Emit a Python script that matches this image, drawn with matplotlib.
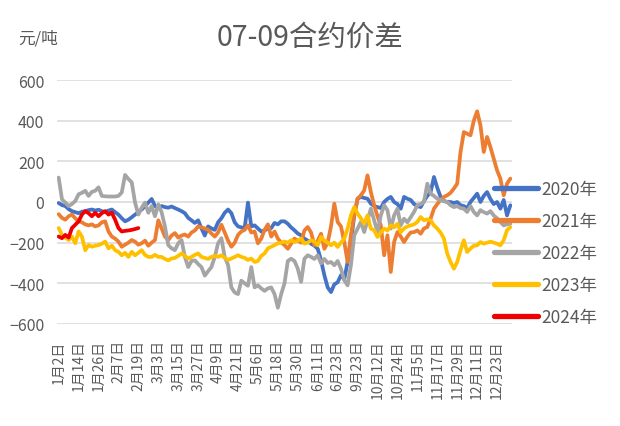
import matplotlib
matplotlib.use("Agg")
import matplotlib.pyplot as plt

plt.rcParams['font.family'] = ['Noto Sans CJK SC', 'DejaVu Sans']

tick_labels = ["1月2日", "1月14日", "1月26日", "2月7日", "2月19日", "3月3日", "3月15日",
               "3月27日", "4月9日", "4月21日", "5月6日", "5月18日", "5月30日", "6月11日",
               "6月23日", "9月23日", "10月12日", "10月24日", "11月5日", "11月17日",
               "11月29日", "12月11日", "12月23日"]
n_slots = 137
tick_step = 6

y2020 = [-5, -15, -20, -35, -45, -50, -55, -48, -45, -40, -37, -42, -38, -45, -50, -42, -37, -50, -62, -80,
         -95, -87, -75, -62, -50, -37, -20, -3, 15, -20, -30, -20, -25, -28, -22, -30, -37, -45, -55, -78,
         -90, -103, -90, -130, -165, -120, -130, -137, -100, -80, -53, -37, -55, -100, -120, -125, -128, -3, -120, -115,
         -130, -145, -140, -130, -128, -103, -110, -95, -95, -107, -125, -139, -155, -164, -180, -190, -205, -215, -230, -287,
         -360, -420, -443, -405, -395, -360, -380, -295, -197, -66, 16, 25, 20, 16, -8, -20, -25, -30, 0, 15,
         25, 0, -10, -33, 25, 16, 10, -10, -20, -25, 5, 30, 49, 123, 70, 25, 5, 0, 0, -5,
         0, -16, -20, -30, 0, 20, 41, 0, 30, 49, 15, -10, 0, -33, 10, -66, -16]

y2021 = [-60, -78, -87, -70, -62, -80, -95, -100, -110, -115, -110, -120, -115, -100, -95, -145, -170, -180, -195, -220,
         -210, -200, -187, -195, -210, -203, -190, -215, -200, -187, -90, -130, -170, -187, -165, -153, -175, -165, -160, -170,
         -150, -140, -120, -125, -130, -137, -155, -170, -150, -112, -150, -190, -220, -200, -162, -145, -137, -115, -150, -145,
         -203, -180, -137, -110, -170, -145, -180, -200, -212, -230, -205, -180, -190, -200, -140, -123, -150, -213, -190, -156,
         -230, -200, -120, -8, -98, -120, -197, -295, -160, -66, 16, 33, 57, 131, 49, -16, -70, -115, -262, -164,
         -344, -197, -148, -170, -197, -170, -150, -148, -140, -156, -130, -123, -82, -33, -10, 10, 25, 33, 45, 66,
         90, 246, 344, 336, 328, 400, 446, 377, 246, 320, 270, 213, 156, 115, 33, 90, 115]

y2022 = [120, 13, -3, -20, -10, 5, 38, 45, 55, 30, 50, 55, 72, 30, 28, 27, 27, 27, 30, 47,
         133, 113, 97, -3, -62, -28, -3, -53, -20, -70, -12, -50, -120, -212, -228, -237, -203, -187, -270, -320,
         -290, -287, -305, -320, -362, -340, -320, -270, -203, -178, -270, -310, -420, -445, -453, -387, -400, -412, -320, -420,
         -410, -425, -437, -425, -420, -453, -520, -453, -400, -290, -279, -290, -328, -393, -279, -262, -270, -280, -262, -302,
         -280, -300, -295, -311, -290, -328, -385, -410, -311, -164, -131, -98, -148, -90, -33, -90, -148, -66, -16, -40,
         -131, -66, -33, -115, -82, -100, -75, -49, -16, -10, 0, 90, 41, 30, 16, 10, 5, 0, -16, -25,
         -20, -30, -33, -49, -20, -49, -66, -40, -50, -57, -45, -66, -80, -98, -115, -110, -107]

y2023 = [-128, -162, -175, -187, -170, -203, -145, -170, -237, -212, -220, -215, -212, -205, -195, -228, -215, -237, -245, -262,
         -250, -270, -245, -262, -250, -237, -260, -270, -270, -260, -270, -270, -280, -287, -278, -275, -265, -253, -265, -278,
         -270, -260, -253, -270, -275, -280, -270, -265, -270, -262, -275, -285, -278, -270, -262, -270, -275, -285, -278, -295,
         -290, -265, -253, -228, -220, -212, -203, -200, -195, -200, -188, -197, -190, -180, -205, -200, -188, -195, -213, -172,
         -190, -200, -213, -200, -221, -200, -180, -131, -66, -25, -57, -80, -107, -66, -131, -139, -172, -150, -131, -140,
         -115, -125, -107, -148, -130, -120, -115, -110, -98, -74, -90, -85, -90, -115, -131, -150, -180, -254, -295, -328,
         -295, -238, -188, -246, -229, -215, -213, -197, -205, -200, -195, -200, -205, -213, -188, -139, -123]

y2024 = [-170, -178, -162, -175, -128, -112, -95, -62, -45, -55, -70, -53, -70, -55, -45, -62, -53, -87, -128, -145,
         -142, -140, -137, -133, -128]

series = [("2020年", y2020, "#4472C4"),
          ("2021年", y2021, "#ED7D31"),
          ("2022年", y2022, "#A5A5A5"),
          ("2023年", y2023, "#FFC000"),
          ("2024年", y2024, "#F00000")]

text_color = "#595959"
fw = 'light'

fig = plt.figure(figsize=(6.2, 4.27), dpi=100)
ax = fig.add_axes([57/620, 1 - 325/427, (512-57)/620, (325-81)/427])

for name, vals, col in series:
    ax.plot(range(len(vals)), vals, color=col, lw=2.7, label=name, solid_joinstyle='round',
            solid_capstyle='round')

ax.set_xlim(-0.5, n_slots - 0.5)
ax.set_ylim(-600, 600)
ax.set_yticks(range(-600, 601, 200))
ax.set_xticks(range(0, tick_step * len(tick_labels), tick_step))
ax.set_xticklabels(tick_labels, rotation=90, fontsize=10, color=text_color, fontweight=fw)
for t in ax.get_yticklabels():
    t.set_fontweight(fw)
ax.tick_params(axis='x', length=0, pad=11)
ax.tick_params(axis='y', length=0, pad=9, labelsize=11.5, labelcolor=text_color)
for t in ax.get_yticklabels():
    t.set_fontweight(fw)
ax.grid(axis='y', color='#D9D9D9', lw=1.1)
ax.set_axisbelow(True)
for s in ax.spines.values():
    s.set_visible(False)

fig.text(310/620, 1 - 38/427, "07-09合约价差", ha='center', va='center', fontsize=20.5,
         color=text_color, fontweight=fw)
fig.text(18/620, 1 - 39/427, "元/吨", ha='left', va='center', fontsize=12, color=text_color,
         fontweight=fw)

leg = fig.legend(loc='center left', bbox_to_anchor=(494/620, 1 - 254/427), frameon=False,
                 prop={'size': 12.5, 'weight': fw}, labelcolor=text_color, handlelength=2.55,
                 handletextpad=0.2, labelspacing=0.8, borderpad=0, borderaxespad=0)
for line in leg.get_lines():
    line.set_linewidth(3.8)

fig.savefig("out.png", dpi=100)
